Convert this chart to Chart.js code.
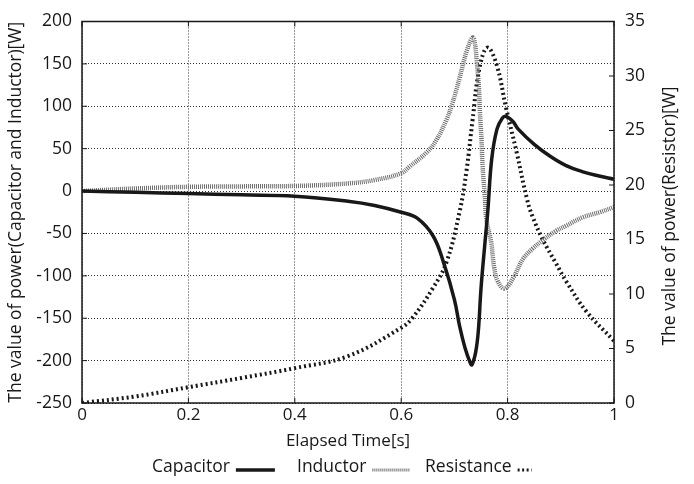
<!DOCTYPE html>
<html>
<head>
<meta charset="utf-8">
<script src="https://cdn.jsdelivr.net/npm/chart.js@4"></script>
<style>
    html, body { margin: 0; padding: 0; background: #fff; }
    .chart-box { width: 694px; height: 484px; }
</style>
</head>
<body>
<div class="chart-box"><canvas id="power-chart"></canvas></div>
<script>
// values
const capTime  = [0, 0.1, 0.2, 0.3, 0.4, 0.5, 0.55, 0.6, 0.63, 0.66, 0.68, 0.7, 0.71, 0.72, 0.73, 0.733, 0.74, 0.745, 0.75, 0.757, 0.763, 0.77, 0.78, 0.79, 0.797, 0.81, 0.82, 0.85, 0.88, 0.91, 0.94, 0.97, 1.0];
const capPower = [0, -1.5, -3, -4.5, -6, -12, -17, -25, -32, -53, -85, -128, -160, -185, -203, -205, -190, -165, -115, -64, -22, 37, 73, 86, 88, 82, 73, 55, 41, 30, 23, 18, 14];

const indTime  = [0, 0.1, 0.2, 0.3, 0.4, 0.5, 0.55, 0.6, 0.616, 0.647, 0.666, 0.685, 0.696, 0.71, 0.723, 0.734, 0.738, 0.742, 0.746, 0.748, 0.751, 0.753, 0.757, 0.76, 0.769, 0.775, 0.782, 0.794, 0.81, 0.829, 0.847, 0.866, 0.891, 0.91, 0.941, 0.973, 1.0];
const indPower = [0, 3, 5, 5.5, 6, 9, 13, 21, 29, 45, 60, 84, 103, 134, 165, 181, 176, 153, 122, 92, 60, 29, -5, -33, -60, -91, -107, -115, -103, -80, -68, -58, -47, -41, -31, -25, -19];

const resTime  = [0, 0.1, 0.2, 0.3, 0.4, 0.5, 0.6, 0.621, 0.659, 0.685, 0.71, 0.723, 0.734, 0.747, 0.762, 0.779, 0.797, 0.817, 0.837, 0.847, 0.866, 0.89, 0.911, 0.948, 1.0];
const resPower = [0, 0.6, 1.45, 2.3, 3.2, 4.3, 6.9, 7.8, 10.5, 12.9, 17.6, 21.4, 25.9, 30.7, 32.6, 31.1, 27.1, 23, 18.6, 17.1, 15, 12.9, 11.1, 8.4, 5.7];

const xTicks = [0, 0.2, 0.4, 0.6, 0.8, 1];
const leftTicks = [-250, -200, -150, -100, -50, 0, 50, 100, 150, 200];
const rightTicks = [0, 5, 10, 15, 20, 25, 30, 35];

const INK = '#1a1718';
const FONT = "'Open Sans'";

function toPoints(xs, ys) {
    return xs.map((x, i) => ({ x: x, y: ys[i] }));
}

// one legend entry: text, then a short sample of the line
function legendEntry(ctx, text, x, y, lineLen, style) {
    ctx.fillStyle = INK;
    ctx.setLineDash([]);
    ctx.fillText(text, x, y);
    const start = x + ctx.measureText(text).width + 6;
    ctx.strokeStyle = style.color;
    ctx.lineWidth = style.width;
    ctx.setLineDash(style.dash);
    ctx.beginPath();
    ctx.moveTo(start, y + 3);
    ctx.lineTo(start + lineLen, y + 3);
    ctx.stroke();
}

//frame, inward tick marks, right title and the legend row
const decorations = {
    id: 'decorations',
    afterDraw(chart) {
        const ctx = chart.ctx;
        const area = chart.chartArea;
        const xs = chart.scales.x;
        const yl = chart.scales.y;
        const yr = chart.scales.y1;

        ctx.save();
        ctx.strokeStyle = INK;
        ctx.lineWidth = 1.5;
        ctx.strokeRect(area.left, area.top, area.right - area.left, area.bottom - area.top);

        ctx.lineWidth = 1;
        ctx.beginPath();
        xTicks.forEach(v => {
            const px = xs.getPixelForValue(v);
            ctx.moveTo(px, area.bottom); ctx.lineTo(px, area.bottom - 5);
            ctx.moveTo(px, area.top); ctx.lineTo(px, area.top + 5);
        });
        leftTicks.forEach(v => {
            const py = yl.getPixelForValue(v);
            ctx.moveTo(area.left, py); ctx.lineTo(area.left + 5, py);
        });
        rightTicks.forEach(v => {
            const py = yr.getPixelForValue(v);
            ctx.moveTo(area.right, py); ctx.lineTo(area.right - 5, py);
        });
        ctx.stroke();

        ctx.fillStyle = INK;
        ctx.font = `17.5px ${FONT}`;
        ctx.textAlign = 'center';
        ctx.textBaseline = 'middle';
        ctx.save();
        ctx.translate(670, 216);
        ctx.rotate(-Math.PI / 2);
        ctx.fillText('The value of power(Resistor)[W]', 0, 0);
        ctx.restore();

        const ly = 467;
        ctx.font = `17.5px ${FONT}`;
        ctx.textAlign = 'left';
        ctx.lineCap = 'butt';
        legendEntry(ctx, 'Capacitor', 152, ly, 39, { color: INK, width: 3.5, dash: [] });
        legendEntry(ctx, 'Inductor', 297, ly, 37, { color: '#6d6d6d', width: 3, dash: [1, 1] });
        legendEntry(ctx, 'Resistance', 425, ly, 14, { color: INK, width: 3, dash: [2, 2.5] });
        ctx.restore();
    }
};

const ctx = document.getElementById('power-chart').getContext('2d');
const powerChart = new Chart(ctx, {
    type: 'line',
    data: {
        datasets: [{
            label: 'Capacitor',
            data: toPoints(capTime, capPower),
            yAxisID: 'y',
            borderColor: INK,
            borderWidth: 3.5,
            pointRadius: 0,
            tension: 0.4
        }, {
            label: 'Inductor',
            data: toPoints(indTime, indPower),
            yAxisID: 'y',
            borderColor: '#6d6d6d',
            borderWidth: 4.5,
            borderDash: [1, 1],
            borderCapStyle: 'butt',
            pointRadius: 0,
            tension: 0.4
        }, {
            label: 'Resistance',
            data: toPoints(resTime, resPower),
            yAxisID: 'y1',
            borderColor: INK,
            borderWidth: 4,
            borderDash: [2, 3],
            borderCapStyle: 'butt',
            pointRadius: 0,
            tension: 0.4
        }]
    },
    options: {
        responsive: true,
        maintainAspectRatio: false,
        animation: false,
        layout: {
            padding: { left: 0, right: 0, top: 16, bottom: 32 }
        },
        scales: {
            x: {
                type: 'linear',
                min: 0,
                max: 1,
                afterFit: s => { s.height = 49; },
                afterBuildTicks: s => { s.ticks = xTicks.map(v => ({ value: v })); },
                ticks: {
                    padding: 2,
                    color: INK,
                    font: { family: FONT, size: 17 },
                    callback: v => String(v)
                },
                grid: { color: '#333', lineWidth: 1, drawTicks: false },
                border: { display: false, dash: [1, 2] },
                title: {
                    display: true,
                    text: 'Elapsed Time[s]',
                    color: INK,
                    font: { family: FONT, size: 17 },
                    padding: { top: 0, bottom: 1 }
                }
            },
            y: {
                position: 'left',
                min: -250,
                max: 200,
                afterFit: s => { s.width = 82; },
                afterBuildTicks: s => { s.ticks = leftTicks.map(v => ({ value: v })); },
                ticks: {
                    padding: 10,
                    color: INK,
                    font: { family: FONT, size: 17.5 }
                },
                grid: { color: '#333', lineWidth: 1, drawTicks: false },
                border: { display: false, dash: [1, 2] },
                title: {
                    display: true,
                    text: 'The value of power(Capacitor and Inductor)[W]',
                    color: INK,
                    font: { family: FONT, size: 17.5 },
                    padding: { top: 6, bottom: 0 }
                }
            },
            y1: {
                position: 'right',
                min: 0,
                max: 35,
                afterFit: s => { s.width = 80; },
                afterBuildTicks: s => { s.ticks = rightTicks.map(v => ({ value: v })); },
                ticks: {
                    padding: 11,
                    color: INK,
                    font: { family: FONT, size: 17.5 }
                },
                grid: { drawOnChartArea: false, drawTicks: false },
                border: { display: false }
            }
        },
        plugins: {
            legend: { display: false },
            tooltip: { enabled: false }
        }
    },
    plugins: [decorations]
});
</script>
</body>
</html>
